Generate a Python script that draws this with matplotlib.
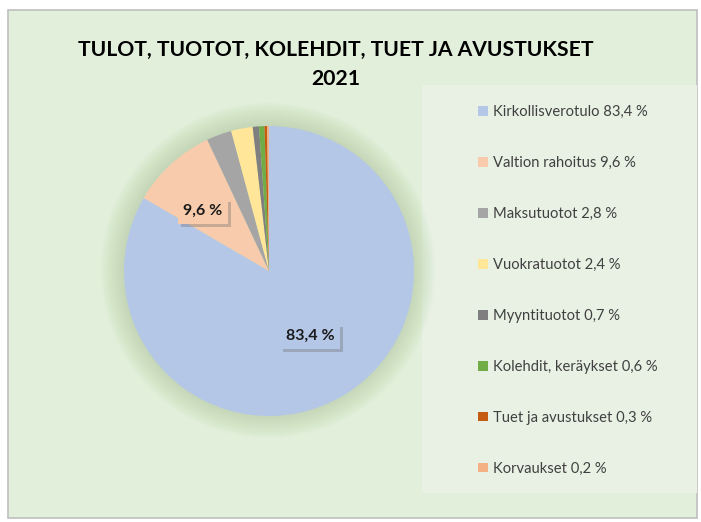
import matplotlib
matplotlib.use("Agg")
import matplotlib.pyplot as plt
from matplotlib.patches import Rectangle, Circle
import matplotlib.patheffects as pe

plt.rcParams['font.family'] = ['Lato', 'DejaVu Sans']

categories = ["Kirkollisverotulo", "Valtion rahoitus", "Maksutuotot", "Vuokratuotot",
              "Myyntituotot", "Kolehdit, keräykset", "Tuet ja avustukset", "Korvaukset"]
values = [83.4, 9.6, 2.8, 2.4, 0.7, 0.6, 0.3, 0.2]
colors = ["#B4C7E7", "#F8CBAD", "#A5A5A5", "#FFE699", "#7F7F7F", "#70AD47", "#C55A11", "#F4B183"]
title_lines = ["TULOT, TUOTOT, KOLEHDIT, TUET JA AVUSTUKSET", "2021"]

def fmt(v):
    return f"{v:.1f}".replace(".", ",") + " %"

legend_labels = [f"{c} {fmt(v)}" for c, v in zip(categories, values)]

W, H = 701, 522
fig = plt.figure(figsize=(W / 100, H / 100), dpi=100)
fig.patch.set_facecolor("white")

# chart area and legend area
fig.patches.append(Rectangle((8 / W, 4 / H), 689 / W, 508 / H, transform=fig.transFigure,
                             facecolor="#E2EFDA", edgecolor="#BFBFBF", lw=1.2, zorder=-10))
fig.patches.append(Rectangle((422 / W, 29 / H), 275 / W, 408 / H, transform=fig.transFigure,
                             facecolor="#E9F1E4", edgecolor="none", zorder=-9))

# title
fig.text(336 / W, 1 - 50 / H, title_lines[0], ha="center", va="center",
         fontsize=15.2, fontweight="bold", color="black")
fig.text(336 / W, 1 - 79 / H, title_lines[1], ha="center", va="center",
         fontsize=15.2, fontweight="bold", color="black")

# pie
cx, cy, r = 269, 271, 145
ax = fig.add_axes([(cx - r) / W, (H - cy - r) / H, 2 * r / W, 2 * r / H])
ax.set_facecolor("none")

# soft shadow
for i in range(24):
    ax.add_patch(Circle((-0.005, 0.005), 1.0 + 0.0065 * (i + 1), facecolor="#5a7a48",
                        edgecolor="none", alpha=0.009, clip_on=False, zorder=0))

wedges, _ = ax.pie(values, colors=colors, startangle=90, counterclock=False,
                   wedgeprops=dict(linewidth=0, zorder=1))
ax.set_xlim(-1, 1)
ax.set_ylim(-1, 1)
ax.set_aspect("equal")
ax.axis("off")

# data labels
label_pos = {0: (0.283, -0.448), 1: (-0.455, 0.414)}
for idx, (x, y) in label_pos.items():
    t = ax.text(x, y, fmt(values[idx]), ha="center", va="center", fontsize=11.5,
                fontweight="bold", color="#1a1a1a", zorder=5,
                bbox=dict(boxstyle="square,pad=0.35", facecolor=colors[idx], edgecolor="none"))
    t.get_bbox_patch().set_path_effects([
        pe.SimplePatchShadow(offset=(2, -2.5), shadow_rgbFace="#6b6b6b", alpha=0.35),
        pe.Normal()])

# legend
leg = fig.legend(wedges, legend_labels, loc="upper left",
                 bbox_to_anchor=(478 / W, 1 - 105 / H), frameon=False,
                 fontsize=10.6, labelcolor="#404040", handlelength=0.65, handleheight=0.65,
                 handletextpad=0.4, labelspacing=2.51, borderaxespad=0, borderpad=0)

fig.savefig("out.png", dpi=100, facecolor=fig.get_facecolor())
